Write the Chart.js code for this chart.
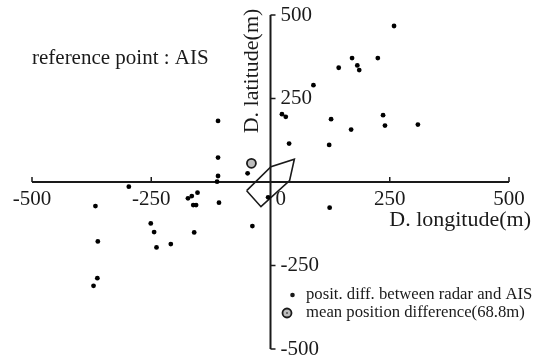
<!DOCTYPE html>
<html>
<head>
<meta charset="utf-8">
<script src="https://cdn.jsdelivr.net/npm/chart.js@4/dist/chart.umd.min.js"></script>
<style>
  html, body { margin: 0; padding: 0; background: #fff; }
  canvas { display: block; }
</style>
</head>
<body>
<canvas id="grafico" width="538" height="359"></canvas>
<script>
(function (window, document) {
    'use strict';

    // posit. diff. between radar and AIS (m)
    var radarLon = [259, 171, 225, 143, 182, 186, 90, 24, 32, 127, 236, 240, 309, 169, 39, 123,
        -110, -110, -110, -112, -108, -48, -5, 124,
        -297, -367, -173, -165, -153, -162, -156, -251, -244, -160, -362, -239, -209, -38, -363, -371];
    var radarLat = [467, 371, 371, 342, 349, 335, 290, 203, 195, 188, 200, 169, 172, 157, 115, 111,
        183, 73, 18, 1, -62, 26, -46, -77,
        -14, -72, -49, -42, -32, -69, -69, -124, -150, -151, -178, -196, -186, -132, -288, -311];
    var meanLon = [-40];
    var meanLat = [56];
    var shipLon = [-50, 1, 50, 40, -20, -50];
    var shipLat = [-26, 46, 68, 4, -74, -26];
    var xTicks = [-500, -250, 0, 250, 500];
    var yTicks = [500, 250, -250, -500];

    var FONT = '"Liberation Serif", "Times New Roman", serif';
    var INK = '#1a1a1a';

    function pts(xs, ys) {
        return xs.map(function (x, i) { return { x: x, y: ys[i] }; });
    }

    var eixos = {
        id: 'eixos',
        beforeDatasetsDraw: function (chart) {
            var ctx = chart.ctx;
            var sx = chart.scales.x, sy = chart.scales.y;
            var x0 = sx.getPixelForValue(0), y0 = sy.getPixelForValue(0);
            ctx.save();
            ctx.strokeStyle = INK;
            ctx.lineWidth = 2;
            ctx.beginPath();
            ctx.moveTo(sx.getPixelForValue(-500), y0);
            ctx.lineTo(sx.getPixelForValue(500), y0);
            ctx.moveTo(x0, sy.getPixelForValue(500));
            ctx.lineTo(x0, sy.getPixelForValue(-500));
            ctx.stroke();
            ctx.lineWidth = 1.5;
            ctx.beginPath();
            xTicks.forEach(function (v) {
                if (v === 0) return;
                var px = sx.getPixelForValue(v);
                ctx.moveTo(px, y0);
                ctx.lineTo(px, y0 - 5);
            });
            yTicks.forEach(function (v) {
                var py = sy.getPixelForValue(v);
                ctx.moveTo(x0, py);
                ctx.lineTo(x0 + 5, py);
            });
            ctx.stroke();
            ctx.restore();
        },
        afterDraw: function (chart) {
            var ctx = chart.ctx;
            var sx = chart.scales.x, sy = chart.scales.y;
            var x0 = sx.getPixelForValue(0), y0 = sy.getPixelForValue(0);
            ctx.save();
            ctx.fillStyle = INK;
            ctx.font = '21px ' + FONT;
            ctx.textBaseline = 'middle';
            xTicks.forEach(function (v) {
                if (v === 0) {
                    ctx.textAlign = 'left';
                    ctx.fillText('0', x0 + 5, y0 + 17);
                } else {
                    ctx.textAlign = 'center';
                    ctx.fillText(String(v), sx.getPixelForValue(v), y0 + 17);
                }
            });
            ctx.textAlign = 'left';
            yTicks.forEach(function (v) {
                ctx.fillText(String(v), x0 + 10, sy.getPixelForValue(v));
            });
            ctx.font = '22px ' + FONT;
            ctx.textAlign = 'right';
            ctx.fillText('D. longitude(m)', 531, y0 + 38);
            ctx.save();
            ctx.translate(x0 - 18, 71);
            ctx.rotate(-Math.PI / 2);
            ctx.textAlign = 'center';
            ctx.fillText('D. latitude(m)', 0, 0);
            ctx.restore();
            ctx.textAlign = 'left';
            ctx.font = '21px ' + FONT;
            ctx.fillText('reference point : AIS', 32, 58);

            // legenda
            ctx.font = '16.7px ' + FONT;
            ctx.fillText('posit. diff. between radar and AIS', 306, 295);
            ctx.fillText('mean position difference(68.8m)', 306, 313);
            ctx.beginPath();
            ctx.arc(292.5, 295, 2.3, 0, Math.PI * 2);
            ctx.fill();
            ctx.beginPath();
            ctx.arc(287, 313, 4.5, 0, Math.PI * 2);
            ctx.fillStyle = '#bdbdbd';
            ctx.fill();
            ctx.lineWidth = 1.8;
            ctx.strokeStyle = INK;
            ctx.stroke();
            ctx.beginPath();
            ctx.arc(287, 313, 1, 0, Math.PI * 2);
            ctx.fillStyle = '#555';
            ctx.fill();
            ctx.restore();
        }
    };

    var $grafico = document.getElementById('grafico');

    new Chart($grafico, {
        type: 'scatter',
        data: {
            datasets: [{
                label: 'posit. diff. between radar and AIS',
                data: pts(radarLon, radarLat),
                backgroundColor: '#000',
                borderWidth: 0,
                pointRadius: 2.4
            }, {
                label: 'mean position difference(68.8m)',
                data: pts(meanLon, meanLat),
                backgroundColor: '#bdbdbd',
                borderColor: INK,
                borderWidth: 1.8,
                pointRadius: 4.5
            }, {
                label: 'ship',
                data: pts(shipLon, shipLat),
                showLine: true,
                borderColor: INK,
                borderWidth: 1.6,
                pointRadius: 0,
                fill: false
            }]
        },
        options: {
            responsive: false,
            animation: false,
            devicePixelRatio: 1,
            layout: { padding: { left: 32, right: 29, top: 15, bottom: 10 } },
            plugins: {
                legend: { display: false },
                tooltip: { enabled: false }
            },
            scales: {
                x: { type: 'linear', min: -500, max: 500, display: false },
                y: { type: 'linear', min: -500, max: 500, display: false }
            }
        },
        plugins: [eixos]
    });
})(window, document);
</script>
</body>
</html>
